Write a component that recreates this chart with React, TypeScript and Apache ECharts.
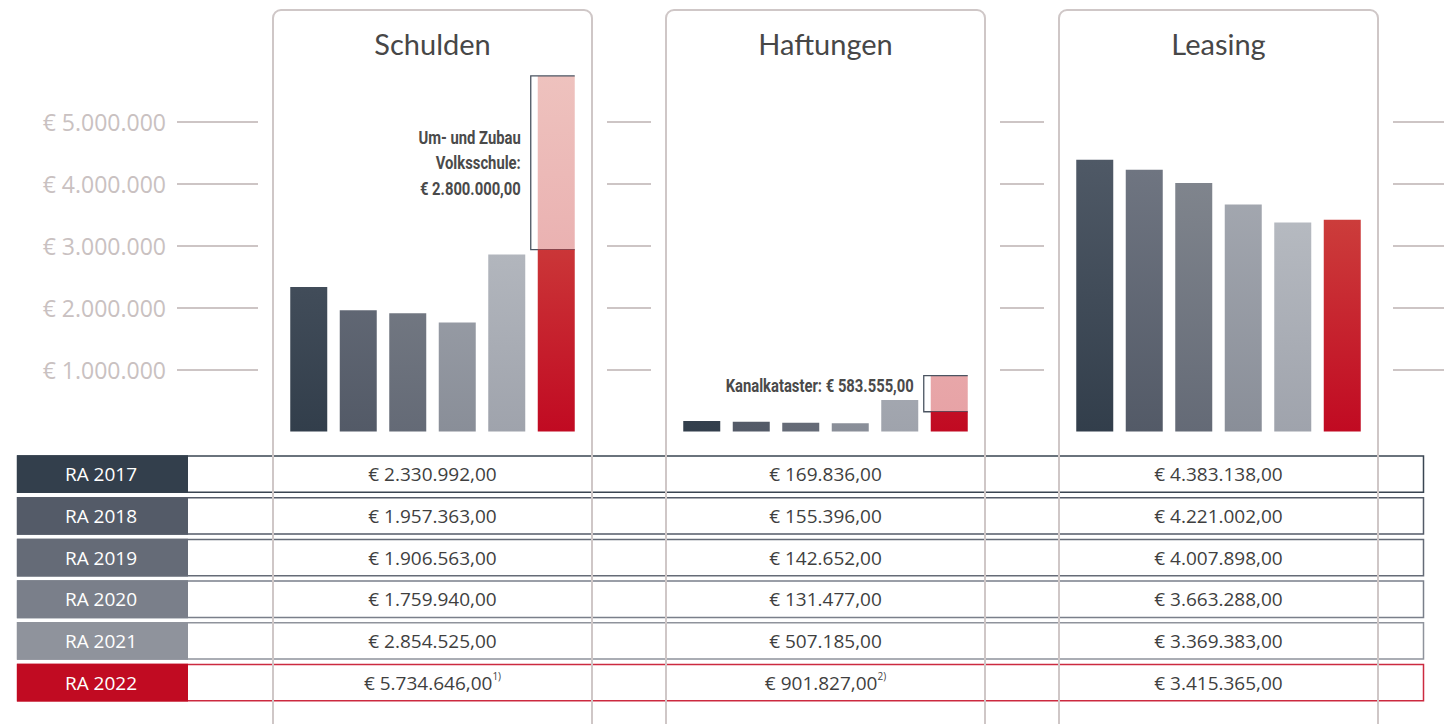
import React, { useEffect, useRef } from 'react';
import * as echarts from 'echarts';

// ---------- data ----------
const years = ['RA 2017', 'RA 2018', 'RA 2019', 'RA 2020', 'RA 2021', 'RA 2022'];
const panelTitles = ['Schulden', 'Haftungen', 'Leasing'];
const schulden = [2330992, 1957363, 1906563, 1759940, 2854525, 5734646];
const haftungen = [169836, 155396, 142652, 131477, 507185, 901827];
const leasing = [4383138, 4221002, 4007898, 3663288, 3369383, 3415365];
const schuldenExtra = 2800000; // Um- und Zubau Volksschule (2022)
const haftungenExtra = 583555; // Kanalkataster (2022)
const extraLabelsPrefix = ['Um- und Zubau\nVolksschule:\n', 'Kanalkataster: ', ''];
const footnotes = ['1)', '2)', ''];
const yMin = 0;
const yMax = 6000000;
const yStep = 1000000;

// ---------- styles ----------
const yearTop = ['#4f5966', '#707682', '#82878f', '#a7abb3', '#bcc0c6', '#cf4b42'];
const yearBottom = ['#323e4b', '#535a67', '#646a76', '#898e98', '#9fa3ac', '#c10a22'];
const rowColors = ['#333f4c', '#545b68', '#656b77', '#7a7f8a', '#8f939c', '#c10b22'];
const rowBorders = ['#3a4552', '#545b68', '#656b77', '#7a7f8a', '#8f939c', '#cc2a40'];

const PANEL_X = [273, 666, 1059];
const PANEL_W = 319;
const GRID_TOP = 59.5;
const GRID_H = 372;
const GAPS: [number, number][] = [[177, 81], [607, 44], [1000, 44], [1393, 51]];
const GRAD_TOP = 160;
const GRAD_BOTTOM = 432;

function fmtInt(n: number) {
  return Math.round(n).toString().replace(/\B(?=(\d{3})+(?!\d))/g, '.');
}
function fmtEuro(n: number) {
  return '€ ' + fmtInt(n) + ',00';
}

function grad(top: string, bottom: string, y1 = GRAD_TOP, y2 = GRAD_BOTTOM) {
  return {
    type: 'linear',
    x: 0,
    y: y1,
    x2: 0,
    y2: y2,
    global: true,
    colorStops: [
      { offset: 0, color: top },
      { offset: 1, color: bottom },
    ],
  };
}

const pinkGrad = grad('#eec2be', '#e7a3a6', 76, 412);

export default function App() {
  const ref = useRef<HTMLDivElement>(null);

  useEffect(() => {
    document.body.style.margin = '0';
    if (!ref.current) return;
    const chart = echarts.init(ref.current, undefined, { renderer: 'svg' });

    const panelData = [schulden, haftungen, leasing];
    const extras = [schuldenExtra, haftungenExtra, 0];

    const grids: any[] = [];
    const xAxes: any[] = [];
    const yAxes: any[] = [];
    const series: any[] = [];

    // bar grids
    PANEL_X.forEach((px, k) => {
      grids.push({ left: px + 11, width: 297, top: GRID_TOP, height: GRID_H });
      xAxes.push({ type: 'category', gridIndex: k, data: years, show: false });
      yAxes.push({
        type: 'value', gridIndex: k, min: yMin, max: yMax, interval: yStep, show: false,
        splitLine: { show: false },
      });
      const vals = panelData[k];
      const extra = extras[k];
      series.push({
        type: 'bar',
        xAxisIndex: k,
        yAxisIndex: k,
        barWidth: 37,
        data: vals.map((v, j) => ({
          value: j === vals.length - 1 ? v - extra : v,
          itemStyle: { color: grad(yearTop[j], yearBottom[j]) },
        })),
      });
      if (extra > 0) {
        const last = vals.length - 1;
        const labelText = extraLabelsPrefix[k] + fmtEuro(extra);
        series.push({
          type: 'custom',
          xAxisIndex: k,
          yAxisIndex: k,
          data: [[last, vals[last] - extra, vals[last]]],
          renderItem: (params: any, api: any) => {
            const idx = api.value(0);
            const base = api.value(1);
            const top = api.value(2);
            const pT = api.coord([idx, top]);
            const pB = api.coord([idx, base]);
            const cx = pT[0];
            const yT = pT[1];
            const yB = pB[1];
            const hw = 18.5;
            const lx = cx - 25.5;
            const tall = yB - yT > 60;
            return {
              type: 'group',
              children: [
                {
                  type: 'rect',
                  shape: { x: cx - hw, y: yT, width: hw * 2, height: yB - yT },
                  style: { fill: pinkGrad },
                },
                {
                  type: 'polyline',
                  shape: { points: [[cx + hw, yT], [lx, yT], [lx, yB], [cx + hw, yB]] },
                  style: { stroke: '#4b5461', lineWidth: 1.3, fill: null },
                },
                {
                  type: 'text',
                  x: lx - 10,
                  y: tall ? (yT + yB) / 2 : yT + 9.5,
                  scaleX: 0.8,
                  style: {
                    text: labelText,
                    x: 0,
                    y: 0,
                    align: 'right',
                    verticalAlign: 'middle',
                    fontFamily: 'Roboto, sans-serif',
                    fontWeight: 'bold',
                    fontSize: 18.5,
                    lineHeight: 25.5,
                    fill: '#4a4a4a',
                  },
                },
              ],
            };
          },
        });
      }
    });

    // gap grids with gridline segments
    GAPS.forEach(([gx, gw], g) => {
      const gi = 3 + g;
      grids.push({ left: gx, width: gw, top: GRID_TOP, height: GRID_H });
      xAxes.push({ type: 'value', gridIndex: gi, show: false, min: 0, max: 1 });
      yAxes.push({
        type: 'value', gridIndex: gi, min: yMin, max: yMax, interval: yStep,
        axisLine: { show: false },
        axisTick: { show: false },
        axisLabel: {
          show: g === 0,
          margin: 11,
          showMinLabel: false,
          showMaxLabel: false,
          formatter: (v: number) => '€ ' + fmtInt(v),
          fontFamily: '"Open Sans", sans-serif',
          fontSize: 23,
          color: '#c9c1c1',
        },
        splitLine: {
          show: true,
          showMinLine: false,
          showMaxLine: false,
          lineStyle: { color: '#cdc5c5', width: 2 },
        },
      });
    });

    // graphics: table, panels, titles
    const graphics: any[] = [];
    const ROW_TOP = 456;
    const ROW_PITCH = 41.7;
    const ROW_H = 36.3;
    years.forEach((yr, i) => {
      const y0 = ROW_TOP + i * ROW_PITCH;
      graphics.push({
        type: 'rect', z: 1,
        shape: { x: 17.5, y: y0, width: 1406, height: ROW_H },
        style: { fill: '#ffffff', stroke: rowBorders[i], lineWidth: 1.5 },
      });
      graphics.push({
        type: 'rect', z: 1,
        shape: { x: 17, y: y0 - 0.75, width: 171, height: ROW_H + 1.5 },
        style: { fill: rowColors[i] },
      });
      graphics.push({
        type: 'text', z: 1,
        x: 101, y: y0 + ROW_H / 2,
        style: {
          text: yr, align: 'center', verticalAlign: 'middle',
          fontFamily: '"Open Sans", sans-serif', fontSize: 19, fill: '#ffffff',
        },
      });
      panelData.forEach((vals, k) => {
        const isLast = i === years.length - 1;
        const fn = isLast ? footnotes[k] : '';
        graphics.push({
          type: 'text', z: 1,
          x: PANEL_X[k] + PANEL_W / 2, y: y0 + ROW_H / 2,
          style: {
            text: fn ? `{v|${fmtEuro(vals[i])}}{s|${fn}}` : `{v|${fmtEuro(vals[i])}}`,
            align: 'center', verticalAlign: 'middle',
            rich: {
              v: { fontFamily: '"Open Sans", sans-serif', fontSize: 19, fill: '#3f3f3f', lineHeight: 24 },
              s: { fontFamily: '"Open Sans", sans-serif', fontSize: 10, fill: '#3f3f3f', verticalAlign: 'top', lineHeight: 14 },
            },
          },
        });
      });
    });
    PANEL_X.forEach((px, k) => {
      graphics.push({
        type: 'rect', z: 2,
        shape: { x: px, y: 10, width: PANEL_W, height: 760, r: 8 },
        style: { fill: 'none', stroke: '#cfc7c7', lineWidth: 2 },
      });
      graphics.push({
        type: 'text', z: 2,
        x: px + PANEL_W / 2, y: 43,
        style: {
          text: panelTitles[k], align: 'center', verticalAlign: 'middle',
          fontFamily: 'Lato, sans-serif', fontSize: 29, fill: '#474747',
        },
      });
    });

    chart.setOption({
      animation: false,
      grid: grids,
      xAxis: xAxes,
      yAxis: yAxes,
      series,
      graphic: { elements: graphics },
    });

    return () => chart.dispose();
  }, []);

  return (
    <div
      ref={ref}
      style={{ position: 'fixed', left: 0, top: 0, width: 1444, height: 724, background: '#ffffff' }}
    />
  );
}
